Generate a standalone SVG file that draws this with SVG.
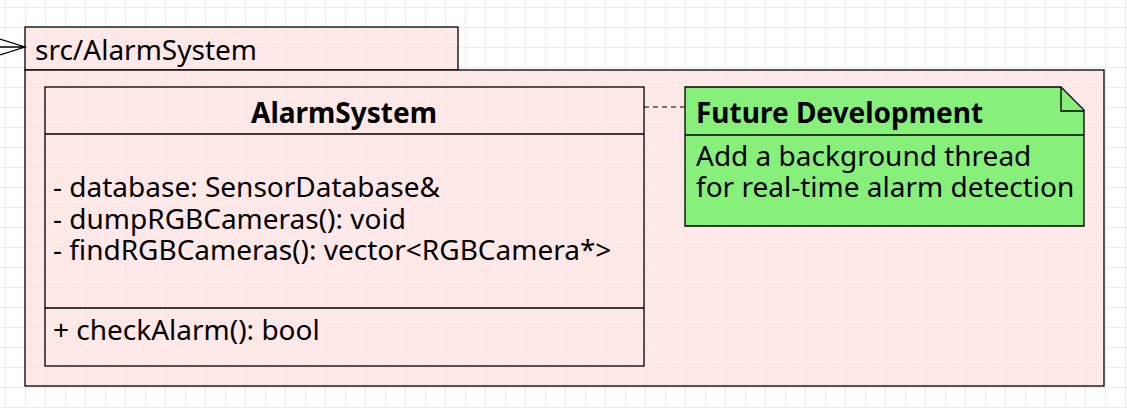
<svg xmlns="http://www.w3.org/2000/svg" width="1127" height="408" viewBox="0 0 1127 408">
<defs>
<pattern id="grid" x="5" y="7" width="20" height="20" patternUnits="userSpaceOnUse">
<path d="M0 0H20M0 0V20" fill="none" stroke="#e6e6e6" stroke-width="1.5"/>
</pattern>
<style>
.t{font-family:"Noto Sans","Open Sans",sans-serif;font-size:28px;fill:#000}
.b{font-weight:bold}
.ln{stroke:#000;stroke-width:1.3;fill:none}
</style>
</defs>
<rect width="1127" height="408" fill="#fff"/>
<rect width="1127" height="408" fill="url(#grid)"/>
<g id="package">
<rect x="25" y="27" width="433" height="43" fill="#ffe4e4" fill-opacity="0.85" stroke="#000" stroke-width="1.3"/>
<rect x="25" y="70" width="1079" height="316" fill="#ffe4e4" fill-opacity="0.85" stroke="#000" stroke-width="1.3"/>
<text class="t" x="35" y="60">src/AlarmSystem</text>
</g>
<g id="class-AlarmSystem">
<rect x="45" y="87" width="599" height="279" fill="none" class="ln"/>
<line x1="45" y1="134" x2="644" y2="134" class="ln"/>
<line x1="45" y1="308" x2="644" y2="308" class="ln"/>
<text class="t b" x="344" y="123" text-anchor="middle">AlarmSystem</text>
<text class="t" x="53" y="197">- database: SensorDatabase&amp;</text>
<text class="t" x="53" y="228.5">- dumpRGBCameras(): void</text>
<text class="t" x="53" y="260">- findRGBCameras(): vector&lt;RGBCamera*&gt;</text>
<text class="t" x="53" y="340">+ checkAlarm(): bool</text>
</g>
<g id="note">
<path d="M685 87H1061L1084 110V226H685Z" fill="#7cf070" fill-opacity="0.92" stroke="#000" stroke-width="1.3"/>
<path d="M1061 87V111H1084" class="ln"/>
<line x1="685" y1="135" x2="1084" y2="135" class="ln"/>
<text class="t b" x="696" y="123">Future Development</text>
<text class="t" x="696" y="166">Add a background thread</text>
<text class="t" x="696" y="197">for real-time alarm detection</text>
</g>
<g id="connectors">
<line x1="644" y1="107" x2="685" y2="107" stroke="#000" stroke-width="1" stroke-dasharray="5,4"/>
<path d="M0 47H25M0 39L25 47L0 55" class="ln"/>
</g>
</svg>
